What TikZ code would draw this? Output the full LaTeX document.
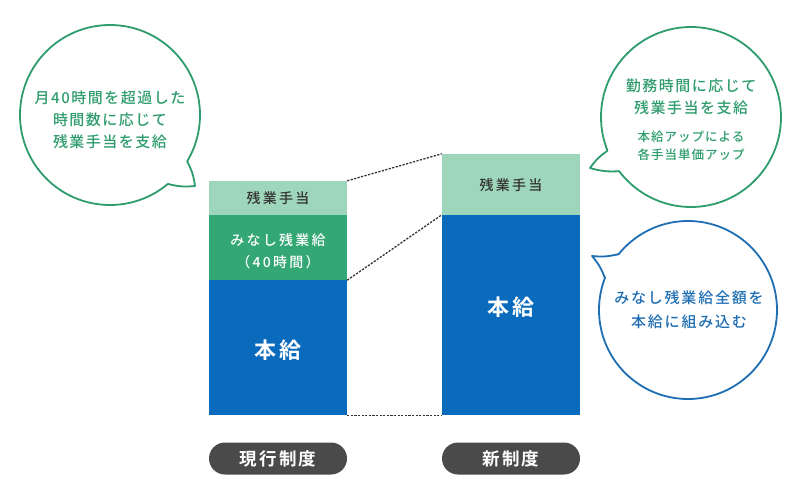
\documentclass[tikz,border=0pt]{standalone}
\usepackage{fontspec}
\setmainfont{Noto Sans CJK JP Medium}[BoldFont={Noto Sans CJK JP Bold}]
\usetikzlibrary{calc}
\definecolor{lgreen}{HTML}{9ED6BB}
\definecolor{mgreen}{HTML}{33A874}
\definecolor{mblue}{HTML}{0A6BBD}
\definecolor{gline}{HTML}{2E9C6C}
\definecolor{bline}{HTML}{1E6EB3}
\definecolor{pillc}{HTML}{4A4A4A}
\definecolor{dtext}{HTML}{333333}
\newcommand{\mytail}[7]{%
  \coordinate (#1-fa) at ($(#1)+(#2:#4-1.5)$);
  \coordinate (#1-fb) at ($(#1)+(#3:#4-1.5)$);
  \coordinate (#1-a) at ($(#1)+(#2:#4)$);
  \coordinate (#1-b) at ($(#1)+(#3:#4)$);
  \fill[white] (#1-fa) to[bend #7=10] (#5) to[bend #7=10] (#1-fb) -- cycle;
  \draw[#6, line width=1.8pt, line join=round] (#1-a) to[bend #7=10] (#5) to[bend #7=10] (#1-b);
}
\begin{document}
\begin{tikzpicture}[x=1pt,y=-1pt,
  band/.style={rectangle, inner sep=0pt, minimum width=138pt, draw=none},
  bubble/.style={circle, inner sep=0pt, minimum size=#1, fill=white, line width=1.8pt},
  btext/.style={align=center, font={\fontsize{15}{22}\selectfont\addfontfeature{LetterSpace=10}}},
  stext/.style={align=center, font={\fontsize{12.5}{18.5}\selectfont\addfontfeature{LetterSpace=8}}},
  lbl/.style={align=center, font={\fontsize{14}{22}\selectfont\addfontfeature{LetterSpace=16}}},
  big/.style={font={\fontsize{22}{26}\selectfont\bfseries\addfontfeature{LetterSpace=10}}, text=white},
  pillst/.style={rectangle, rounded corners=16pt, fill=pillc, minimum width=138pt, minimum height=32pt, inner sep=0pt, text=white, font={\fontsize{17.5}{20}\selectfont\bfseries\addfontfeature{LetterSpace=12}}},
  dotl/.style={line width=1.3pt, dtext, dash pattern=on 2.2pt off 1.4pt}
]
\useasboundingbox (0,0) rectangle (800,500);
\fill[white] (0,0) rectangle (800,500);

% left bar
\node[band, fill=lgreen, minimum height=34pt] (lz) at (278,198) {};
\node[band, fill=mgreen, minimum height=65pt] (lm) at (278,247.5) {};
\node[band, fill=mblue, minimum height=135pt] (lh) at (278,347.5) {};
% right bar
\node[band, fill=lgreen, minimum height=61pt] (rz) at (511,184.5) {};
\node[band, fill=mblue, minimum height=200pt] (rh) at (511,315) {};

% labels
\node[lbl, text=dtext] (lzt) at (278,198) {残業手当};
\node[lbl, text=white] (lmt) at (278,251) {みなし残業給\\（40時間）};
\node[big] (lht) at (278,350) {本給};
\node[lbl, text=dtext] (rzt) at (511,185) {残業手当};
\node[big] (rht) at (511,307) {本給};

% dotted connectors
\draw[dotl] (lz.north east) -- (rz.north west);
\draw[dotl] (lm.south east) -- (rh.north west);
\draw[dotl] (lh.south east) -- (rh.south west);

% pills
\node[pillst] (p1) at (278,458.5) {現行制度};
\node[pillst] (p2) at (511,458.5) {新制度};

% left bubble
\node[bubble=180pt, draw=gline] (b1) at (110,115) {};
\coordinate (t1) at (195,186);
\mytail{b1}{31}{50}{90}{t1}{gline}{left}
\node[btext, text=gline] (b1t) at (110,120) {月40時間を超過した\\時間数に応じて\\残業手当を支給};

% right green bubble
\node[bubble=180pt, draw=gline] (b2) at (691,117) {};
\coordinate (t2) at (590,168);
\mytail{b2}{158}{143}{90}{t2}{gline}{right}
\node[btext, text=gline] (b2t) at (691,97) {勤務時間に応じて\\残業手当を支給};
\node[stext, text=gline] (b2s) at (691,146) {本給アップによる\\各手当単価アップ};

% blue bubble
\node[bubble=178pt, draw=bline] (b3) at (688,310) {};
\coordinate (t3) at (592,256);
\mytail{b3}{219}{201}{89}{t3}{bline}{left}
\node[btext, text=bline, font={\fontsize{15}{24}\selectfont\addfontfeature{LetterSpace=12}}] (b3t) at (689,310) {みなし残業給全額を\\本給に組み込む};
\end{tikzpicture}
\end{document}
